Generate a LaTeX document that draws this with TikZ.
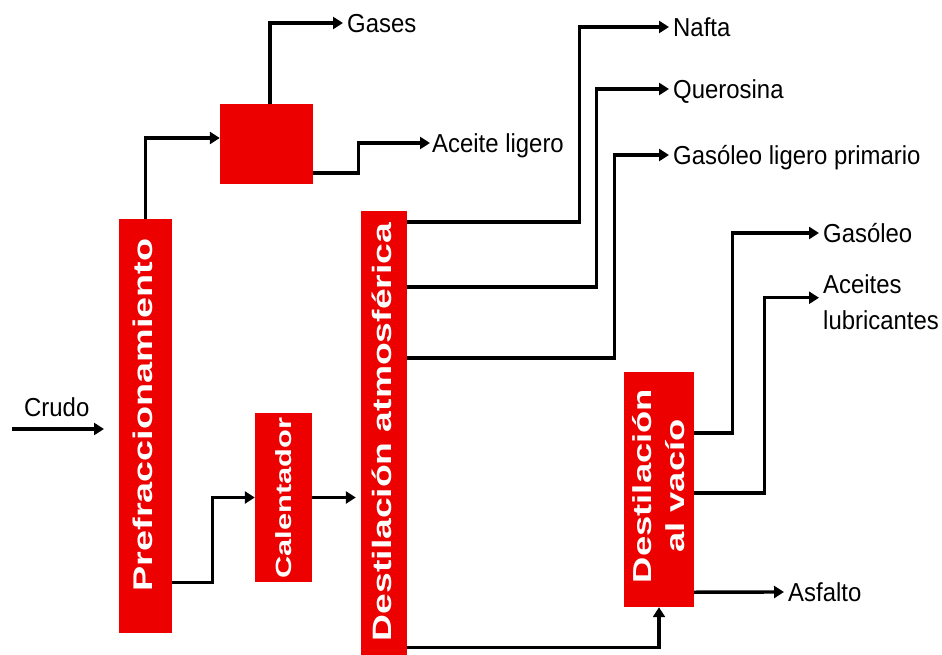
\documentclass[tikz,border=0pt]{standalone}
\usepackage{fontspec}
\setmainfont{Liberation Sans}
\newfontfamily\boxfont{Liberation Sans}[FakeStretch=1.4]
\newfontfamily\labfont{Liberation Sans}[FakeStretch=0.92]
\usetikzlibrary{arrows.meta,calc}
\definecolor{boxred}{RGB}{236,0,0}
\begin{document}
\begin{tikzpicture}[x=1pt,y=-1pt,
  redbox/.style={fill=boxred, draw=none, inner sep=0pt},
  boxtext/.style={text=white, font=\boxfont\bfseries\fontsize{26.6}{33}\selectfont, rotate=90, align=center, inner sep=0pt},
  lab/.style={font=\labfont\fontsize{26}{36}\selectfont, text height=18.6pt, text depth=0pt, inner xsep=4pt, inner ysep=0pt, anchor=west},
  flow/.style={line width=3.4pt, -{Triangle[length=10pt,width=12pt]}}
]
\useasboundingbox (0,0) rectangle (942,655);

% boxes
\node[redbox, minimum width=53pt, minimum height=414pt] (pref) at (145.5,426) {};
\node[redbox, minimum width=93pt, minimum height=80pt] (sep) at (266.5,144) {};
\node[redbox, minimum width=46pt, minimum height=444pt] (atm) at (384,433) {};
\node[redbox, minimum width=57pt, minimum height=169pt] (cal) at (283.5,497.5) {};
\node[redbox, minimum width=70pt, minimum height=235pt] (vac) at (659,489.5) {};

% box texts
\node[boxtext, font=\boxfont\bfseries\fontsize{27}{33}\selectfont] (preft) at (143,415) {Prefraccionamiento};
\node[boxtext] (atmt) at (382,432) {Destilación atmosférica};
\node[boxtext, font=\boxfont\bfseries\fontsize{22}{28}\selectfont] (calt) at (284,498) {Calentador};
\node[boxtext, font=\boxfont\bfseries\fontsize{26}{33}\selectfont] (vact) at (659,486) {Destilación\\al vacío};

% labels
\node[lab, inner xsep=2pt] (crudo) at (22,407) {Crudo};
\node[lab] (gases) at (343,23) {Gases};
\node[lab, inner xsep=2pt] (aceite) at (430,143) {Aceite ligero};
\node[lab] (nafta) at (669,27) {Nafta};
\node[lab] (quer) at (669,89) {Querosina};
\node[lab] (glp) at (669,155) {Gasóleo ligero primario};
\node[lab] (gasoleo) at (819,233) {Gasóleo};
\node[font=\labfont\fontsize{26}{36}\selectfont, align=left, anchor=north west, inner xsep=4pt, inner ysep=0pt] (lub) at (819,274.5) {Aceites\\lubricantes};
\node[lab] (asfalto) at (784,592) {Asfalto};

% connectors
\coordinate (crudoS) at (12,429);
\coordinate (crudoE) at (104,429);
\draw[flow] (crudoS) -- (crudoE);

\draw[flow] (pref.north) |- ($(sep.west)+(0,-6)$);
\draw[flow] ($(sep.north)+(3.5,0)$) |- (gases.west);
\draw[flow] ($(sep.east)+(0,29)$) -- ++(45,0) |- (aceite.west);

\draw[flow] ($(pref.south east)+(0,-51)$) -- ++(40,0) |- (cal.west);
\draw[flow, shorten >=5pt] (cal.east) -- (cal.east -| atm.west);

\draw[flow] ($(atm.north east)+(0,11)$) -- ++(172,0) |- (nafta.west);
\draw[flow] ($(atm.north east)+(0,76)$) -- ++(189,0) |- (quer.west);
\draw[flow] ($(atm.north east)+(0,147)$) -- ++(207,0) |- (glp.west);
\draw[flow] ($(atm.south east)+(0,-8)$) -| (vac.south);

\draw[flow] ($(vac.north east)+(0,61)$) -- ++(38,0) |- (gasoleo.west);
\draw[flow] ($(vac.north east)+(0,121)$) -- ++(70,0) |- ($(lub.west)+(0,-4.5)$);
\draw[flow] ($(vac.south east)+(0,-15)$) -- (asfalto.west);
\end{tikzpicture}
\end{document}
